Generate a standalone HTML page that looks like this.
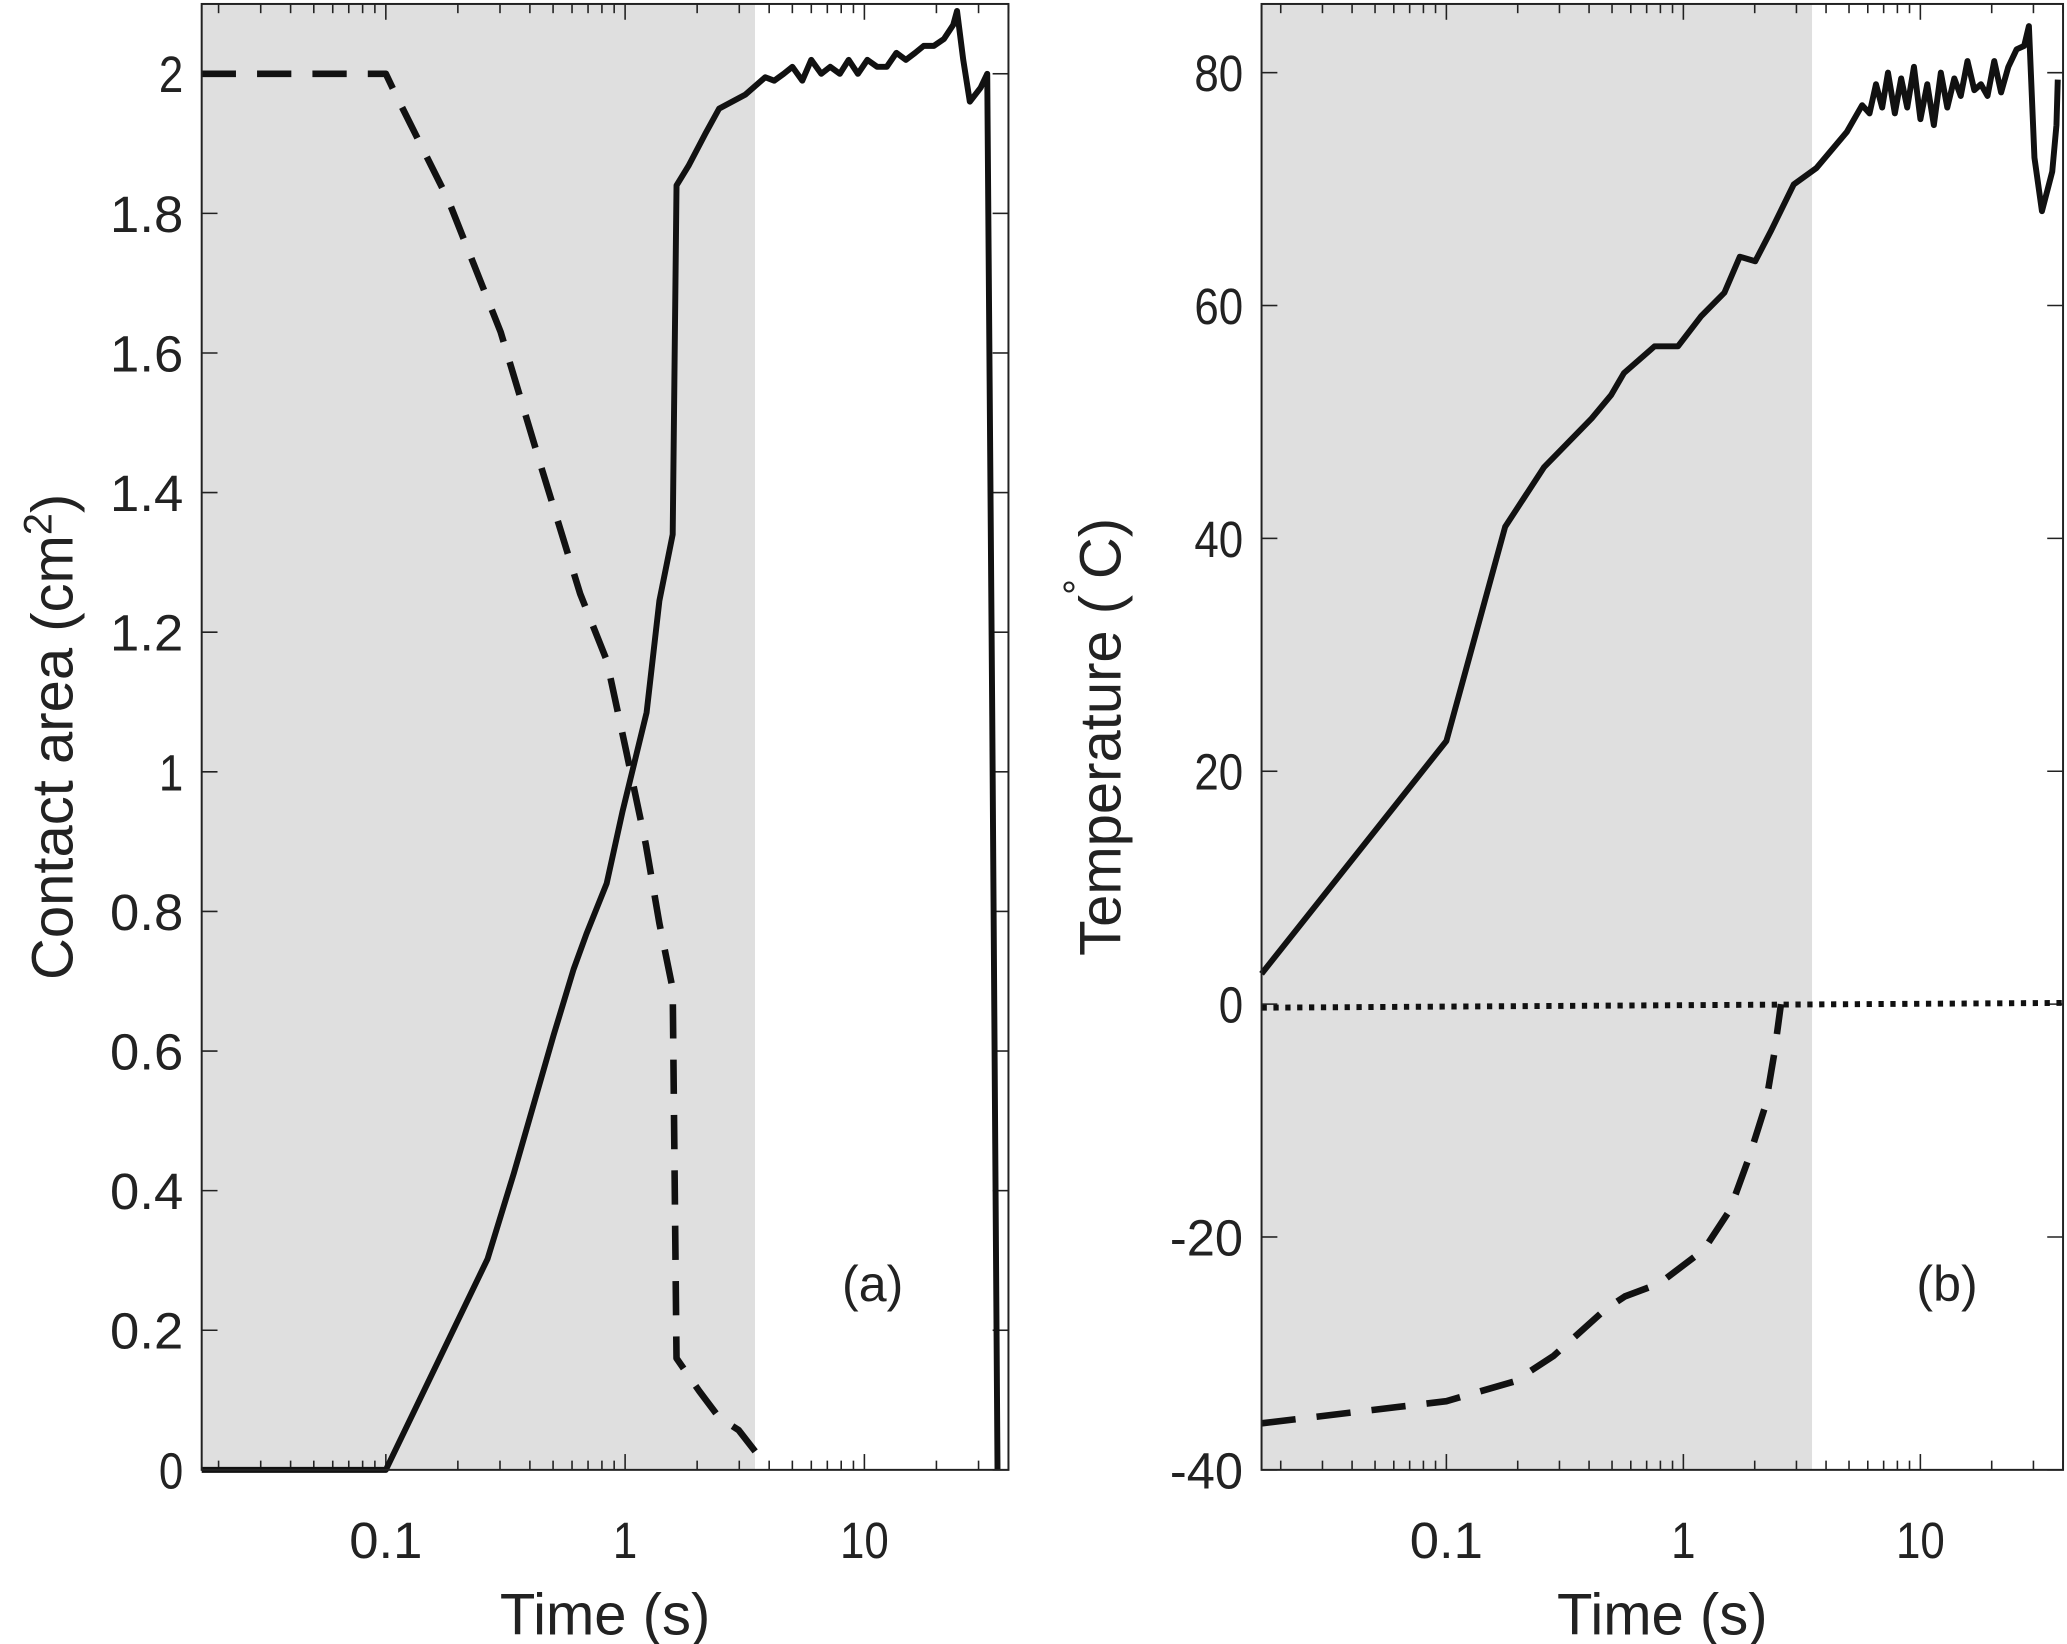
<!DOCTYPE html>
<html><head><meta charset="utf-8"><style>
html,body{margin:0;padding:0;background:#fff}
svg{display:block}
text{font-family:"Liberation Sans",Arial,sans-serif;fill:#222}
</style></head><body>
<svg id="fig" width="2067" height="1644" viewBox="0 0 1568 1247.1" preserveAspectRatio="none" xmlns="http://www.w3.org/2000/svg">
<g id="pa"></g>
<g id="pb"></g>
</svg>
<script>
// Panel (a) data
const aSolidT = [0.017,0.1,0.266,0.343,0.503,0.609,0.69,0.837,0.975,1.23,1.39,1.58,1.64,1.84,2.17,2.47,3.18,3.85,4.2,4.6,5.0,5.5,6.0,6.6,7.2,7.9,8.6,9.4,10.3,11.3,12.4,13.6,14.9,16.3,17.7,19.5,21.5,23.5,24.4,25.9,27.6,30.6,32.6,34.2,36];
const aSolidV = [0,0,0.302,0.425,0.623,0.717,0.768,0.84,0.943,1.085,1.245,1.34,1.84,1.868,1.915,1.95,1.97,1.995,1.99,2.0,2.01,1.99,2.02,2.0,2.01,2.0,2.02,2.0,2.02,2.01,2.01,2.03,2.02,2.03,2.04,2.04,2.05,2.07,2.09,2.02,1.96,1.98,2.0,1.08,0];
const aDashT = [0.017,0.1,0.11,0.182,0.302,0.443,0.649,0.837,1.01,1.22,1.39,1.58,1.64,2.04,2.47,2.98,3.75];
const aDashV = [2,2,1.97,1.82,1.63,1.44,1.255,1.16,1.03,0.896,0.783,0.689,0.16,0.113,0.075,0.057,0.013];
const aYTicks = [0,0.2,0.4,0.6,0.8,1,1.2,1.4,1.6,1.8,2];
const aYLabels = ["0","0.2","0.4","0.6","0.8","1","1.2","1.4","1.6","1.8","2"];
// Panel (b) data
const bSolidT = [0.0166,0.1,0.177,0.258,0.41,0.495,0.561,0.756,0.949,1.19,1.49,1.73,2.01,2.34,2.92,3.64,4.89,5.68,6.1,6.5,6.9,7.3,7.8,8.3,8.8,9.4,10,10.7,11.4,12.2,13,13.9,14.8,15.8,16.9,18,19.2,20.5,21.9,23.5,25.5,27.4,28.7,30.3,32.6,36,37.5,38];
const bSolidV = [2.6,22.6,41,46.1,50.3,52.3,54.2,56.5,56.5,59.1,61.1,64.2,63.8,66.4,70.4,71.8,74.9,77.2,76.5,79,77,80,76.5,79.5,77,80.5,76,79,75.5,80,77,79.5,78,81,78.5,79,78,81,78.3,80.5,82,82.3,84,72.7,68.1,71.5,75.5,79.4];
const bDashT = [0.0166,0.1,0.194,0.284,0.47,0.567,0.79,1.22,1.57,1.89,2.22,2.42,2.58];
const bDashV = [-36,-34.1,-32.4,-30.2,-26.2,-25.1,-24,-21.1,-17.7,-13.2,-8.7,-4.2,0];
const bDotT = [0.0166,40];
const bDotV = [-0.3,0.1];
const bYTicks = [-40,-20,0,20,40,60,80];
const bYLabels = ["-40","-20","0","20","40","60","80"];
const xTicks = [0.1,1,10];
const xLabels = ["0.1","1","10"];
const shadeEnd = 3.49;

const NS="http://www.w3.org/2000/svg";
function mk(parent,tag,attrs){const e=document.createElementNS(NS,tag);for(const k in attrs)e.setAttribute(k,attrs[k]);parent.appendChild(e);return e;}

function panel(g,cfg){
  const {x0,x1,y0,y1,xmin,xmax,ymin,ymax}=cfg;
  const X=t=>x0+(Math.log10(t)-Math.log10(xmin))/(Math.log10(xmax)-Math.log10(xmin))*(x1-x0);
  const Y=v=>y1-(v-ymin)/(ymax-ymin)*(y1-y0);
  const sh=mk(g,'rect',{x:x0,y:y0,width:X(shadeEnd)-x0,height:y1-y0,fill:'#dfdfdf'});
  
  
  const tg=mk(g,'g',{stroke:'#222','stroke-width':1.2});
  
  
  for(let d=-2;d<=1;d++)for(let m=1;m<=9;m++){const t=m*Math.pow(10,d);if(t<xmin||t>xmax)continue;const x=X(t);const L=m===1?12:7;
    mk(tg,'line',{x1:x,y1:y1,x2:x,y2:y1-L});mk(tg,'line',{x1:x,y1:y0,x2:x,y2:y0+L});}
  cfg.yt.forEach((v,i)=>{const y=Y(v);mk(tg,'line',{x1:x0,y1:y,x2:x0+12,y2:y});mk(tg,'line',{x1:x1,y1:y,x2:x1-12,y2:y});
    const t=mk(g,'text',{x:x0-14,y:y+14,'text-anchor':'end','font-size':39,'textLength':cfg.yl[i].length*18.5,'lengthAdjust':'spacingAndGlyphs'});t.textContent=cfg.yl[i];
    
    });
  xTicks.forEach((v,i)=>{const t=mk(g,'text',{x:X(v),y:y1+67,'text-anchor':'middle','font-size':39,'textLength':xLabels[i].length*18.5,'lengthAdjust':'spacingAndGlyphs'});t.textContent=xLabels[i];
    
    });
  function line(T,V,dash,name,w){let d='';T.forEach((t,i)=>{d+=(i?'L':'M')+X(t).toFixed(1)+','+Y(V[i]).toFixed(1);});
    const p=mk(g,'path',{d:d,fill:'none',stroke:'#111','stroke-width':w||4,'stroke-linejoin':'round'});if(dash)p.setAttribute('stroke-dasharray',dash);
    
    }
  cfg.series.forEach(s=>line(s[0],s[1],s[2],s[3],s[4]));
  const fr=mk(g,'rect',{x:x0,y:y0,width:x1-x0,height:y1-y0,fill:'none',stroke:'#222','stroke-width':1.5});
  
  
  const xl=mk(g,'text',{x:(x0+x1)/2,y:y1+125,'text-anchor':'middle','font-size':44});xl.textContent='Time (s)';
  
  
  const pl=mk(g,'text',{x:cfg.lx,y:cfg.ly,'text-anchor':'middle','font-size':38});pl.textContent=cfg.label;
  
  
  const yl=mk(g,'text',{x:0,y:0,'text-anchor':'middle','font-size':44,transform:`translate(${cfg.yx},${(y0+y1)/2}) rotate(-90)`});
  yl.innerHTML=cfg.ytitle;
  
  
}
panel(document.getElementById('pa'),{x0:153,x1:765,y0:3,y1:1115,xmin:0.017,xmax:40,ymin:0,ymax:2.1,yt:aYTicks,yl:aYLabels,
  series:[[aSolidT,aSolidV,null,'contact-area-solid-line',4.5],[aDashT,aDashV,'26 16','contact-area-dashed-line',5]],
  label:'(a)',lx:662,ly:987,yx:55,ytitle:'Contact area (cm<tspan dy="-16" font-size="30">2</tspan><tspan dy="16">)</tspan>'});
panel(document.getElementById('pb'),{x0:957,x1:1565,y0:3,y1:1115,xmin:0.0166,xmax:40,ymin:-40,ymax:85.9,yt:bYTicks,yl:bYLabels,
  series:[[bSolidT,bSolidV,null,'temperature-solid-line',4.5],[bDashT,bDashV,'26 16','temperature-dashed-line',5],[bDotT,bDotV,'4 5','zero-dotted-line',4.5]],
  label:'(b)',lx:1477,ly:987,yx:850,ytitle:'Temperature (<tspan dy="-22" font-size="30">°</tspan><tspan dy="22">C)</tspan>'});
</script>
</body></html>
